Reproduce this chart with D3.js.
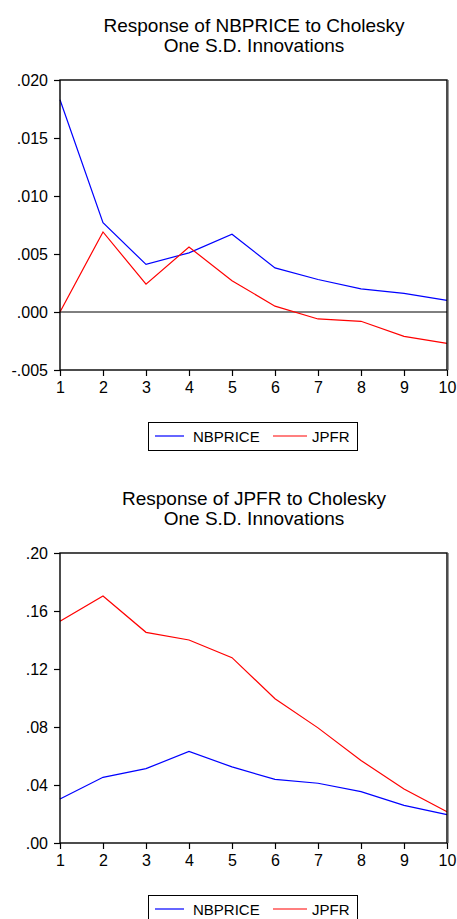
<!DOCTYPE html>
<html>
<head>
<meta charset="utf-8">
<script src="https://cdn.jsdelivr.net/npm/d3@7"></script>
<style>
  body { margin: 0; background: #fff; }
  svg { display: block; font-family: "Liberation Sans", Arial, sans-serif; }
</style>
</head>
<body>
<svg id="chart"></svg>
<script>
// periods 1..10
const periods = [1, 2, 3, 4, 5, 6, 7, 8, 9, 10];

// Response of NBPRICE
const nbpriceToNbprice = [0.0183, 0.0077, 0.0041, 0.0051, 0.0067, 0.0038, 0.0028, 0.0020, 0.0016, 0.0010];
const nbpriceToJpfr = [0.0000, 0.0069, 0.0024, 0.0056, 0.0027, 0.0005, -0.0006, -0.0008, -0.0021, -0.0027];

// Response of JPFR
const jpfrToNbprice = [0.0304, 0.0453, 0.0513, 0.0631, 0.0525, 0.0439, 0.0412, 0.0354, 0.0260, 0.0196];
const jpfrToJpfr = [0.1529, 0.1704, 0.1453, 0.1400, 0.1278, 0.0995, 0.0794, 0.0569, 0.0373, 0.0216];

const topTicks = [-0.005, 0.000, 0.005, 0.010, 0.015, 0.020];
const bottomTicks = [0.00, 0.04, 0.08, 0.12, 0.16, 0.20];

const seriesNames = ["NBPRICE", "JPFR"];
const colors = { NBPRICE: "#0000ff", JPFR: "#ff0000" };

const W = 457, H = 919;
const svg = d3.select("#chart").attr("width", W).attr("height", H);

function fmt(d, digits) {
  // EViews style: ".020", "-.005", ".00"
  let s = Math.abs(d).toFixed(digits).replace(/^0/, "");
  return (d < 0 ? "-" : "") + s;
}

function drawPanel(opts) {
  const { top, bottom, title, yDomain, ticks, digits, data, zeroLine, legendY } = opts;
  const left = 60, right = 447;

  const x = d3.scaleLinear().domain([1, 10]).range([left, right]);
  const y = d3.scaleLinear().domain(yDomain).range([bottom, top]);

  const g = svg.append("g");

  // title
  g.selectAll("text.title")
    .data(title)
    .join("text")
    .attr("class", "title")
    .attr("x", 254)
    .attr("y", (d, i) => top - 48 + i * 20)
    .attr("text-anchor", "middle")
    .attr("font-size", 19)
    .attr("fill", "#000")
    .text(d => d);

  // zero line
  if (zeroLine) {
    g.append("line")
      .attr("x1", left).attr("x2", right)
      .attr("y1", y(0)).attr("y2", y(0))
      .attr("stroke", "#000").attr("stroke-width", 1);
  }

  const line = d3.line()
    .x((d, i) => x(periods[i]))
    .y(d => y(d));

  data.forEach((vals, k) => {
    g.append("path")
      .attr("d", line(vals))
      .attr("fill", "none")
      .attr("stroke", colors[seriesNames[k]])
      .attr("stroke-width", 1.2);
  });

  // frame (with light shadow on the right edge)
  g.append("line")
    .attr("x1", right + 1.5).attr("x2", right + 1.5)
    .attr("y1", top).attr("y2", bottom)
    .attr("stroke", "#999").attr("stroke-width", 1);
  g.append("rect")
    .attr("x", left).attr("y", top)
    .attr("width", right - left).attr("height", bottom - top)
    .attr("fill", "none").attr("stroke", "#000").attr("stroke-width", 1.4);

  // axes
  const yAxis = d3.axisLeft(y).tickValues(ticks).tickSize(6).tickSizeOuter(0)
    .tickFormat(d => fmt(d, digits));
  const ya = g.append("g").attr("transform", `translate(${left},0)`).call(yAxis);
  ya.select(".domain").remove();
  ya.selectAll("text").attr("font-size", 16).attr("font-family", "Liberation Sans, Arial, sans-serif").attr("fill", "#000").attr("x", -12);
  ya.selectAll("line").attr("stroke", "#000").attr("stroke-width", 1.2);

  const xAxis = d3.axisBottom(x).tickValues(periods).tickSize(6).tickSizeOuter(0)
    .tickFormat(d3.format("d"));
  const xa = g.append("g").attr("transform", `translate(0,${bottom})`).call(xAxis);
  xa.select(".domain").remove();
  xa.selectAll("text").attr("font-size", 16).attr("font-family", "Liberation Sans, Arial, sans-serif").attr("fill", "#000").attr("y", 12);
  xa.selectAll("line").attr("stroke", "#000").attr("stroke-width", 1.2);

  // legend
  const lg = g.append("g").attr("transform", `translate(148,${legendY})`);
  lg.append("rect")
    .attr("x", 0.5).attr("y", 0.5).attr("width", 209).attr("height", 28)
    .attr("fill", "#fff").attr("stroke", "#000").attr("stroke-width", 1);
  const items = [
    { name: "NBPRICE", x1: 7, x2: 36, tx: 45 },
    { name: "JPFR", x1: 125, x2: 159, tx: 164 }
  ];
  items.forEach(it => {
    lg.append("line")
      .attr("x1", it.x1).attr("x2", it.x2).attr("y1", 14).attr("y2", 14)
      .attr("stroke", colors[it.name]).attr("stroke-width", 1.2);
    lg.append("text")
      .attr("x", it.tx).attr("y", 19.5)
      .attr("font-size", 15).attr("fill", "#000")
      .text(it.name);
  });
}

drawPanel({
  top: 80, bottom: 370,
  title: ["Response of NBPRICE to Cholesky", "One S.D. Innovations"],
  yDomain: [-0.005, 0.020], ticks: topTicks, digits: 3,
  data: [nbpriceToNbprice, nbpriceToJpfr],
  zeroLine: true, legendY: 422
});

drawPanel({
  top: 553, bottom: 843,
  title: ["Response of JPFR to Cholesky", "One S.D. Innovations"],
  yDomain: [0, 0.20], ticks: bottomTicks, digits: 2,
  data: [jpfrToNbprice, jpfrToJpfr],
  zeroLine: false, legendY: 895
});
</script>
</body>
</html>
